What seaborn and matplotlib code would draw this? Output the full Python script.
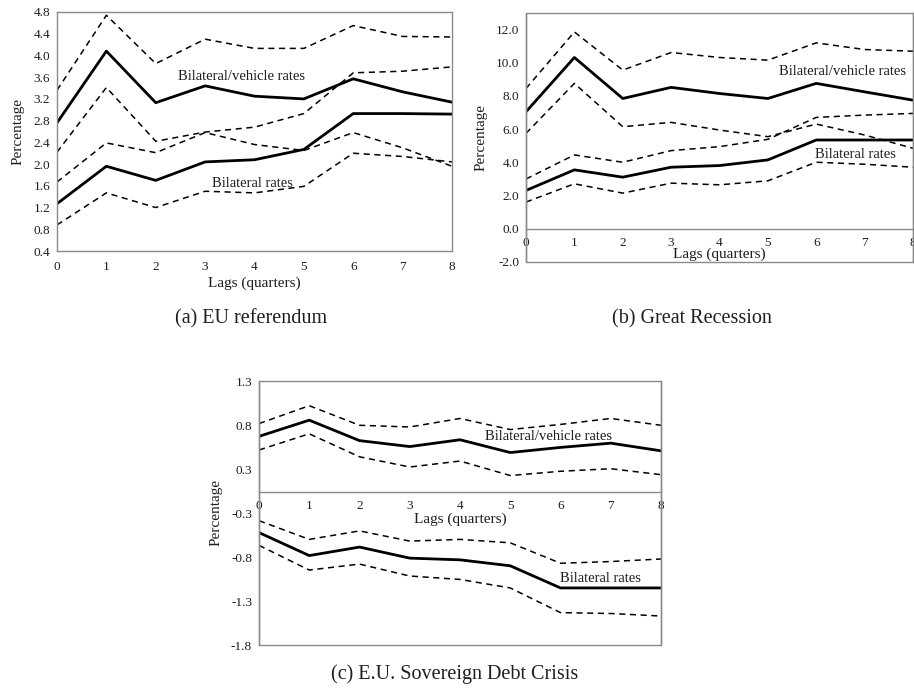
import numpy as np
import pandas as pd
import matplotlib
matplotlib.use("Agg")
import matplotlib.pyplot as plt
from matplotlib.patches import Rectangle
import seaborn as sns

sns.set_theme(style="white")
plt.rcParams['font.family'] = ['Liberation Serif', 'DejaVu Serif']

lags = [0, 1, 2, 3, 4, 5, 6, 7, 8]

# (a) EU referendum
a_bv = [2.76, 4.08, 3.13, 3.44, 3.25, 3.20, 3.57, 3.33, 3.14]
a_bv_hi = [3.36, 4.74, 3.85, 4.30, 4.13, 4.13, 4.55, 4.35, 4.34]
a_bv_lo = [2.22, 3.41, 2.42, 2.59, 2.68, 2.93, 3.68, 3.71, 3.79]
a_b = [1.27, 1.96, 1.70, 2.04, 2.08, 2.27, 2.93, 2.93, 2.92]
a_b_hi = [1.67, 2.39, 2.21, 2.58, 2.36, 2.25, 2.58, 2.30, 1.96]
a_b_lo = [0.88, 1.47, 1.20, 1.50, 1.47, 1.59, 2.20, 2.14, 2.04]

# (b) Great Recession
b_bv = [7.05, 10.32, 7.85, 8.52, 8.15, 7.85, 8.76, 8.25, 7.75]
b_bv_hi = [8.45, 11.86, 9.56, 10.62, 10.32, 10.16, 11.2, 10.8, 10.7]
b_bv_lo = [5.75, 8.76, 6.15, 6.41, 5.95, 5.55, 6.31, 5.65, 4.85]
b_b = [2.31, 3.55, 3.11, 3.71, 3.81, 4.15, 5.35, 5.35, 5.35]
b_b_hi = [3.0, 4.45, 4.01, 4.71, 4.95, 5.39, 6.71, 6.85, 6.95]
b_b_lo = [1.61, 2.71, 2.15, 2.75, 2.65, 2.89, 4.01, 3.89, 3.71]

# (c) E.U. Sovereign Debt Crisis
c_bv = [0.65, 0.84, 0.60, 0.53, 0.61, 0.46, 0.52, 0.57, 0.48]
c_bv_hi = [0.80, 1.01, 0.78, 0.76, 0.86, 0.73, 0.79, 0.86, 0.78]
c_bv_lo = [0.49, 0.68, 0.41, 0.29, 0.36, 0.19, 0.24, 0.27, 0.20]
c_b = [-0.48, -0.75, -0.65, -0.78, -0.80, -0.87, -1.13, -1.13, -1.13]
c_b_hi = [-0.34, -0.56, -0.46, -0.58, -0.56, -0.60, -0.84, -0.82, -0.79]
c_b_lo = [-0.63, -0.92, -0.85, -0.99, -1.03, -1.13, -1.42, -1.43, -1.46]

a_yticks = ["0.4", "0.8", "1.2", "1.6", "2.0", "2.4", "2.8", "3.2", "3.6", "4.0", "4.4", "4.8"]
b_yticks = ["-2.0", "0.0", "2.0", "4.0", "6.0", "8.0", "10.0", "12.0"]
c_yticks = ["-1.8", "-1.3", "-0.8", "-0.3", "0.3", "0.8", "1.3"]

captions = ["(a) EU referendum", "(b) Great Recession", "(c) E.U. Sovereign Debt Crisis"]
label_bv = "Bilateral/vehicle rates"
label_b = "Bilateral rates"

W, H = 914, 688
fig = plt.figure(figsize=(W / 100, H / 100), dpi=100)

FRAME = "#8a8a8a"
TXT = "#1e1e1e"
TICK_FS = 9.5
LAB_FS = 11
ANN_FS = 10.5
CAP_FS = 14.5


def rect(l, r, t, b):
    return [l / W, 1 - b / H, (r - l) / W, (b - t) / H]


def draw_series(ax, mid, hi, lo):
    sns.lineplot(x=lags, y=mid, ax=ax, color="black", lw=2.0, estimator=None)
    sns.lineplot(x=lags, y=hi, ax=ax, color="black", lw=1.1, estimator=None,
                 linestyle=(0, (4, 3)))
    sns.lineplot(x=lags, y=lo, ax=ax, color="black", lw=1.1, estimator=None,
                 linestyle=(0, (4, 3)))


def style_axes(ax, ylim, yticks, ylabels, zero_axis, xpad, lpad):
    for s in ax.spines.values():
        s.set_color(FRAME)
        s.set_linewidth(1.0)
    if zero_axis:
        ax.spines['bottom'].set_position(('data', 0))
        ax.spines['top'].set_visible(False)
        ax.add_patch(Rectangle((0, 0), 1, 1, transform=ax.transAxes, fill=False,
                               edgecolor=FRAME, lw=1.0, clip_on=False, zorder=5))
    ax.set_xlim(0, 8)
    ax.set_ylim(*ylim)
    ax.set_xticks(lags)
    ax.set_xticklabels([str(v) for v in lags], fontsize=TICK_FS)
    ax.set_yticks(yticks)
    ax.set_yticklabels(ylabels, fontsize=TICK_FS)
    ax.tick_params(length=0, colors=TXT, labelsize=TICK_FS)
    ax.tick_params(axis='y', pad=5)
    ax.tick_params(axis='x', pad=xpad)
    ax.set_xlabel("Lags (quarters)", fontsize=LAB_FS, labelpad=lpad, color=TXT)
    ax.set_ylabel("Percentage", fontsize=LAB_FS, labelpad=6, color=TXT)
    ax.grid(False)


# Panel (a)
ax1 = fig.add_axes(rect(57, 452, 12, 251))
draw_series(ax1, a_bv, a_bv_hi, a_bv_lo)
draw_series(ax1, a_b, a_b_hi, a_b_lo)
style_axes(ax1, (0.4, 4.8), np.arange(0.4, 4.81, 0.4), a_yticks, False, 7, 3)
ax1.text(3.73, 3.62, label_bv, ha="center", va="center", fontsize=ANN_FS, color=TXT)
ax1.text(3.95, 1.65, label_b, ha="center", va="center", fontsize=ANN_FS, color=TXT)

# Panel (b)
ax2 = fig.add_axes(rect(526, 913, 13, 262))
draw_series(ax2, b_bv, b_bv_hi, b_bv_lo)
draw_series(ax2, b_b, b_b_hi, b_b_lo)
style_axes(ax2, (-2, 13), np.arange(-2, 12.1, 2), b_yticks, True, 6, -1)
ax2.text(6.54, 9.46, label_bv, ha="center", va="center", fontsize=ANN_FS, color=TXT)
ax2.text(6.80, 4.45, label_b, ha="center", va="center", fontsize=ANN_FS, color=TXT)

# Panel (c)
ax3 = fig.add_axes(rect(259, 661, 381, 645))
draw_series(ax3, c_bv, c_bv_hi, c_bv_lo)
draw_series(ax3, c_b, c_b_hi, c_b_lo)
style_axes(ax3, (-1.8, 1.3), np.linspace(-1.8, 1.3, 7), c_yticks, True, 6, 0)
ax3.text(5.77, 0.65, label_bv, ha="center", va="center", fontsize=ANN_FS, color=TXT)
ax3.text(6.79, -1.02, label_b, ha="center", va="center", fontsize=ANN_FS, color=TXT)

for ax in (ax1, ax2, ax3):
    leg = ax.get_legend()
    if leg is not None:
        leg.remove()

fig.text(251 / W, 1 - 319 / H, captions[0], ha="center", va="center", fontsize=CAP_FS, color=TXT)
fig.text(692 / W, 1 - 319 / H, captions[1], ha="center", va="center", fontsize=CAP_FS, color=TXT)
fig.text(455 / W, 1 - 674 / H, captions[2], ha="center", va="center", fontsize=CAP_FS, color=TXT)

fig.savefig("out.png", dpi=100, facecolor="white")
